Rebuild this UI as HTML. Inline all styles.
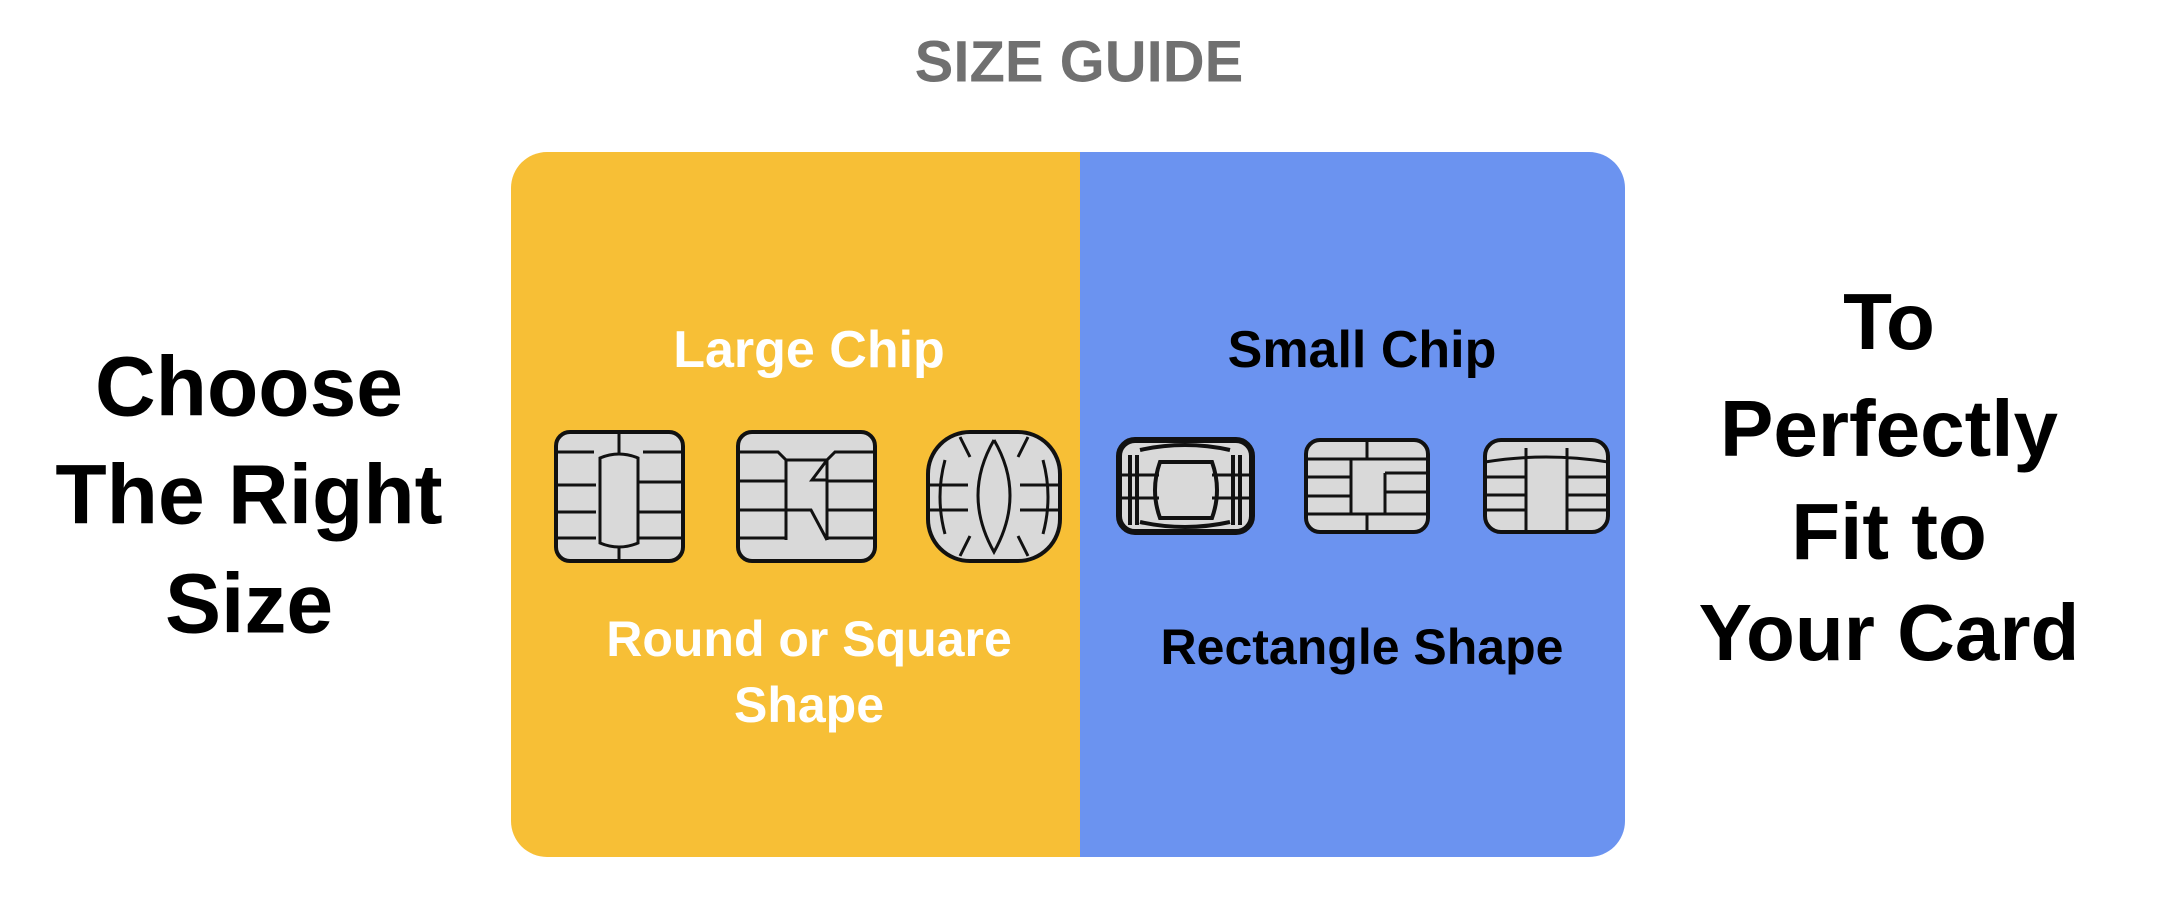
<!DOCTYPE html>
<html><head><meta charset="utf-8"><style>
html,body{margin:0;padding:0;background:#fff;width:2157px;height:901px;overflow:hidden;position:relative;font-family:"Liberation Sans",Arial,sans-serif;}
.t{position:absolute;font-weight:bold;text-align:center;white-space:nowrap;transform:translate(-50%,-50%);}
</style></head><body>
<div class="t" style="left:1079px;top:62px;font-size:58px;color:#707070;font-weight:bold;letter-spacing:0px;">SIZE GUIDE</div>
<div style="position:absolute;left:511px;top:152px;width:1114px;height:705px;border-radius:36px;overflow:hidden;">
 <div style="position:absolute;left:0;top:0;width:569px;height:100%;background:#f7bf36;"></div>
 <div style="position:absolute;left:569px;top:0;right:0;height:100%;background:#6b93f0;"></div>
</div>
<div class="t" style="left:249px;top:387px;font-size:84px;color:#000;">Choose</div>
<div class="t" style="left:249px;top:495px;font-size:84px;color:#000;">The Right</div>
<div class="t" style="left:249px;top:604px;font-size:84px;color:#000;">Size</div>
<div class="t" style="left:1889px;top:322px;font-size:80px;color:#000;">To</div>
<div class="t" style="left:1889px;top:429px;font-size:80px;color:#000;">Perfectly</div>
<div class="t" style="left:1889px;top:532px;font-size:80px;color:#000;">Fit to</div>
<div class="t" style="left:1889px;top:633px;font-size:80px;color:#000;">Your Card</div>
<div class="t" style="left:809px;top:350px;font-size:52px;color:#fff;">Large Chip</div>
<div class="t" style="left:1362px;top:350px;font-size:52px;color:#000;">Small Chip</div>
<div class="t" style="left:809px;top:639px;font-size:50px;color:#fff;">Round or Square</div>
<div class="t" style="left:809px;top:705px;font-size:50px;color:#fff;">Shape</div>
<div class="t" style="left:1362px;top:647px;font-size:50px;color:#000;">Rectangle Shape</div>
<svg width="2157" height="901" style="position:absolute;left:0;top:0" fill="none" stroke="#111" stroke-width="3">
 <g>
  <rect x="556" y="432" width="127" height="129" rx="14" fill="#d9d9d9" stroke-width="4"/>
  <path d="M619 432V460M556 452h38M556 485h40M556 512h40M556 538h40M683 452h-40M683 482h-60M683 512h-60M683 538h-60M619 545V561"/>
  <path d="M600 458q19-8 38 0v85q-19 8-38 0z" fill="#d9d9d9"/>
 </g>
 <g>
  <rect x="738" y="432" width="137" height="129" rx="14" fill="#d9d9d9" stroke-width="4"/>
  <path d="M738 452h40l8 8v80M875 452h-40l-8 8v80M738 481h48M738 510h48M738 538h48M875 481h-48M875 510h-48M875 538h-48M786 460h41l-15 20h15M786 510h25l16 30"/>
 </g>
 <g>
  <rect x="928" y="432" width="132" height="129" rx="42" fill="#d9d9d9" stroke-width="4"/>
  <path d="M994 440q-32 55 0 112q32-57 0-112M928 485h40M928 510h40M1060 485h-40M1060 510h-40M945 460q-10 37 0 74M1043 460q10 37 0 74M960 437l10 20M1028 437l-10 20M960 556l10-20M1028 556l-10-20"/>
 </g>
 <g>
  <rect x="1119" y="440" width="133" height="92" rx="16" fill="#d9d9d9" stroke-width="6"/>
  <path d="M1140 450q45-10 90 0M1140 522q45 10 90 0M1130 455v70M1240 455v70M1137 455v70M1233 455v70M1160 462q-10 28 0 56h52q10-28 0-56z" stroke-width="4"/>
  <path d="M1119 475h40M1119 498h40M1252 475h-40M1252 498h-40"/>
 </g>
 <g>
  <rect x="1306" y="440" width="122" height="92" rx="14" fill="#d9d9d9" stroke-width="4"/>
  <path d="M1367 440v19M1367 532v-18M1306 459h122M1306 514h122M1306 477h45M1306 496h45M1351 459v55M1385 473h43M1385 473v41M1385 492h43"/>
 </g>
 <g>
  <rect x="1485" y="440" width="123" height="92" rx="16" fill="#d9d9d9" stroke-width="4"/>
  <path d="M1485 462q61-10 123 0M1485 477h40M1485 495h40M1485 510h40M1608 477h-40M1608 495h-40M1608 510h-40M1526 448v84M1567 448v84M1526 460v60"/>
 </g>
</svg>
</body></html>
